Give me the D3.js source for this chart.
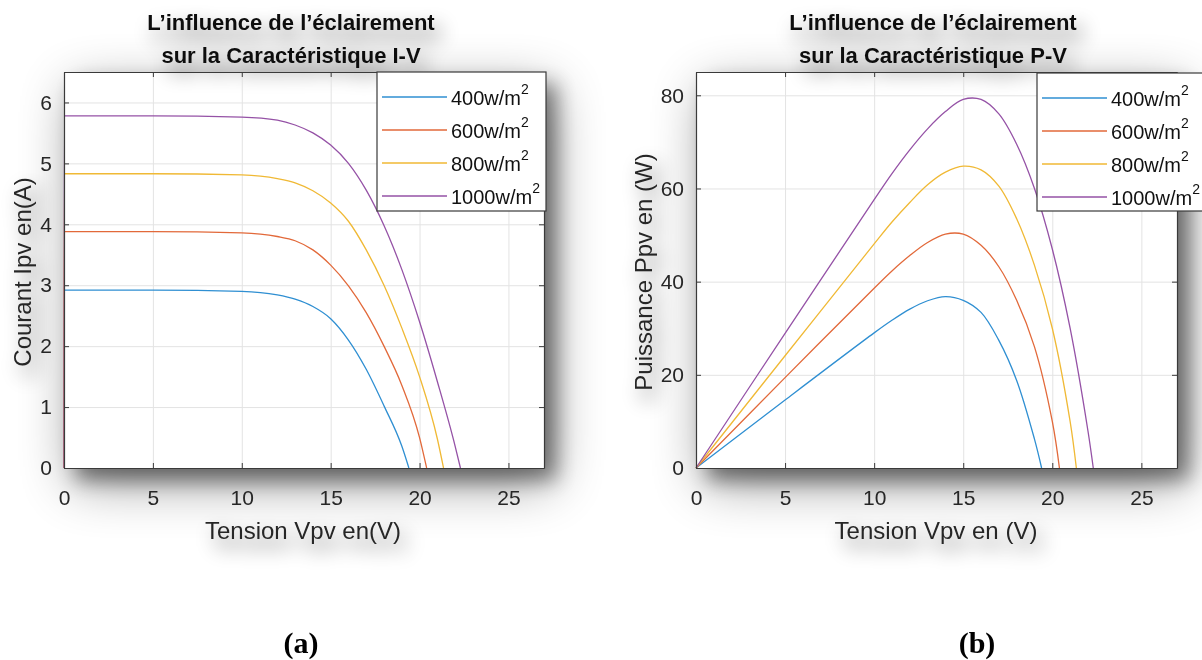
<!DOCTYPE html>
<html>
<head>
<meta charset="utf-8">
<script src="https://cdn.jsdelivr.net/npm/d3@7"></script>
<style>
  body { margin: 0; background: #fff; }
  svg { display: block; font-family: "Liberation Sans", Arial, sans-serif; }
</style>
</head>
<body>
<div id="chart"></div>
<script>
// series labels and colours
const irradiance = ["400", "600", "800", "1000"];
const colors = ["#2f8fd2", "#e2693a", "#f0b935", "#9552a6"];

// I-V curves (V in volts, I in amps)
const vIV400 = [0, 0.02, 5, 10, 12, 13, 14, 15, 16, 17, 18, 19, 19.4];
const iIV400 = [0, 2.92, 2.92, 2.90, 2.84, 2.77, 2.65, 2.45, 2.10, 1.62, 1.02, 0.36, 0];
const vIV600 = [0, 0.02, 5, 10, 12, 13, 14, 15, 16, 17, 18, 19, 20, 20.4];
const iIV600 = [0, 3.88, 3.88, 3.86, 3.80, 3.73, 3.58, 3.33, 2.99, 2.55, 2.00, 1.36, 0.50, 0];
const vIV800 = [0, 0.02, 5, 10, 12, 13, 14, 15, 16, 17, 18, 19, 20, 21, 21.35];
const iIV800 = [0, 4.83, 4.83, 4.81, 4.75, 4.68, 4.55, 4.35, 4.05, 3.58, 3.00, 2.30, 1.50, 0.48, 0];
const vIV1000 = [0, 0.02, 5, 10, 12, 13, 14, 15, 16, 17, 18, 19, 20, 21, 22, 22.3];
const iIV1000 = [0, 5.78, 5.78, 5.76, 5.71, 5.63, 5.50, 5.30, 5.00, 4.56, 3.98, 3.26, 2.40, 1.42, 0.36, 0];

// P-V curves (V in volts, P in watts)
const vPV400 = [0, 5, 10, 11, 12, 13, 14, 15, 16, 17, 18, 19, 19.4];
const pPV400 = [0, 14.6, 29.0, 31.7, 34.1, 35.9, 36.8, 36.0, 33.4, 27.4, 18.8, 6.2, 0];
const vPV600 = [0, 5, 10, 11, 12, 13, 14, 15, 16, 17, 18, 19, 20, 20.4];
const pPV600 = [0, 19.4, 38.6, 42.3, 45.6, 48.4, 50.2, 50.2, 47.8, 43.2, 36.0, 26.0, 10.0, 0];
const vPV800 = [0, 5, 10, 11, 12, 13, 14, 15, 16, 17, 18, 19, 20, 21, 21.35];
const pPV800 = [0, 24.1, 48.1, 52.8, 57.0, 60.8, 63.5, 64.8, 64.0, 60.5, 53.5, 43.5, 30.0, 10.0, 0];
const vPV1000 = [0, 5, 10, 11, 12, 13, 14, 15, 16, 17, 18, 19, 20, 21, 22, 22.3];
const pPV1000 = [0, 28.9, 57.6, 63.2, 68.3, 72.8, 76.5, 79.1, 79.1, 76.0, 69.5, 60.0, 47.0, 30.0, 8.0, 0];

// axis ticks
const xTicks = [0, 5, 10, 15, 20, 25];
const yTicksIV = [0, 1, 2, 3, 4, 5, 6];
const yTicksPV = [0, 20, 40, 60, 80];

const zip = (xs, ys) => xs.map((x, i) => [x, ys[i]]);

const svg = d3.select("#chart").append("svg")
    .attr("width", 1202)
    .attr("height", 660);

const defs = svg.append("defs");
const f = defs.append("filter").attr("id", "shadow")
    .attr("x", "-30%").attr("y", "-30%").attr("width", "160%").attr("height", "160%");
f.append("feGaussianBlur").attr("in", "SourceAlpha").attr("stdDeviation", 26).attr("result", "wide");
f.append("feOffset").attr("in", "wide").attr("dx", 8).attr("dy", 16).attr("result", "wideOff");
f.append("feComponentTransfer").attr("in", "wideOff").attr("result", "wideA")
    .append("feFuncA").attr("type", "linear").attr("slope", 0.4);
f.append("feGaussianBlur").attr("in", "SourceAlpha").attr("stdDeviation", 10).attr("result", "tight");
f.append("feOffset").attr("in", "tight").attr("dx", 12).attr("dy", 12).attr("result", "tightOff");
f.append("feComponentTransfer").attr("in", "tightOff").attr("result", "tightA")
    .append("feFuncA").attr("type", "linear").attr("slope", 0.45);
const m = f.append("feMerge");
m.append("feMergeNode").attr("in", "wideA");
m.append("feMergeNode").attr("in", "tightA");
m.append("feMergeNode").attr("in", "SourceGraphic");

const tf = defs.append("filter").attr("id", "textShadow")
    .attr("x", "-30%").attr("y", "-80%").attr("width", "160%").attr("height", "260%");
tf.append("feGaussianBlur").attr("in", "SourceAlpha").attr("stdDeviation", 10).attr("result", "b");
tf.append("feOffset").attr("in", "b").attr("dx", 6).attr("dy", 10).attr("result", "o");
tf.append("feComponentTransfer").attr("in", "o").attr("result", "a")
    .append("feFuncA").attr("type", "linear").attr("slope", 0.6);
const tm = tf.append("feMerge");
tm.append("feMergeNode").attr("in", "a");
tm.append("feMergeNode").attr("in", "SourceGraphic");

function drawPanel(p) {
    const x = d3.scaleLinear().domain([0, 27]).range([p.left, p.right]);
    const y = d3.scaleLinear().domain(p.yDomain).range([p.bottom, p.top]);
    const w = p.right - p.left, h = p.bottom - p.top;

    const g = svg.append("g");

    // white plot area with its drop shadow
    g.append("rect")
        .attr("x", p.left).attr("y", p.top)
        .attr("width", w).attr("height", h)
        .attr("fill", "#fff")
        .attr("filter", "url(#shadow)");

    // titles and axis labels (soft shadow like the pasted figure)
    const tickCol = "#262626";
    const tg = g.append("g").attr("filter", "url(#textShadow)");
    tg.append("text")
        .attr("x", p.titleX).attr("y", 30)
        .attr("text-anchor", "middle")
        .attr("font-size", 22).attr("font-weight", "bold").attr("fill", "#111")
        .text(p.title1);
    tg.append("text")
        .attr("x", p.titleX).attr("y", 63)
        .attr("text-anchor", "middle")
        .attr("font-size", 22).attr("font-weight", "bold").attr("fill", "#111")
        .text(p.title2);
    tg.append("text")
        .attr("x", p.xLabelX).attr("y", 539)
        .attr("text-anchor", "middle")
        .attr("font-size", 24).attr("fill", tickCol)
        .text(p.xLabel);
    tg.append("text")
        .attr("transform", `translate(${p.yLabelX},272) rotate(-90)`)
        .attr("text-anchor", "middle")
        .attr("font-size", 24).attr("fill", tickCol)
        .text(p.yLabel);

    // grid
    g.append("g")
        .attr("transform", `translate(0,${p.bottom})`)
        .call(d3.axisBottom(x).tickValues(xTicks).tickSize(-h).tickFormat(""))
        .call(a => a.select(".domain").remove())
        .call(a => a.selectAll("line").attr("stroke", "#e3e3e3"));
    g.append("g")
        .attr("transform", `translate(${p.left},0)`)
        .call(d3.axisLeft(y).tickValues(p.yTicks).tickSize(-w).tickFormat(""))
        .call(a => a.select(".domain").remove())
        .call(a => a.selectAll("line").attr("stroke", "#e3e3e3"));

    // curves
    const line = d3.line()
        .x(d => x(d[0]))
        .y(d => y(d[1]))
        .curve(p.curve);
    p.series.forEach((s, i) => {
        g.append("path")
            .datum(s)
            .attr("fill", "none")
            .attr("stroke", colors[i])
            .attr("stroke-width", 1.3)
            .attr("d", line);
    });

    // axes with inward ticks, box on
    const styleAx = a => {
        a.select(".domain").attr("stroke", "#3a3a3a").attr("stroke-width", 1.2);
        a.selectAll("line").attr("stroke", "#3a3a3a");
        a.selectAll("text").attr("fill", tickCol).attr("font-size", 21)
            .attr("font-family", "'Liberation Sans', Arial, sans-serif");
    };
    const fmt = d3.format("d");
    g.append("g")
        .attr("transform", `translate(0,${p.bottom})`)
        .call(d3.axisBottom(x).tickValues(xTicks).tickFormat(fmt)
            .tickSizeInner(-5).tickSizeOuter(0).tickPadding(22))
        .call(styleAx);
    g.append("g")
        .attr("transform", `translate(0,${p.top})`)
        .call(d3.axisTop(x).tickValues(xTicks).tickSizeInner(-5).tickSizeOuter(0).tickFormat(""))
        .call(styleAx);
    g.append("g")
        .attr("transform", `translate(${p.left},0)`)
        .call(d3.axisLeft(y).tickValues(p.yTicks).tickFormat(fmt)
            .tickSizeInner(-5).tickSizeOuter(0).tickPadding(12))
        .call(styleAx);
    g.append("g")
        .attr("transform", `translate(${p.right},0)`)
        .call(d3.axisRight(y).tickValues(p.yTicks).tickSizeInner(-5).tickSizeOuter(0).tickFormat(""))
        .call(styleAx);

    // legend
    const lg = g.append("g");
    lg.append("rect")
        .attr("x", p.legX).attr("y", p.legY)
        .attr("width", p.legW).attr("height", p.legH)
        .attr("fill", "#fff")
        .attr("stroke", "#3a3a3a")
        .attr("stroke-width", 1.2);
    irradiance.forEach((lab, i) => {
        const ry = p.legY + 25 + i * 33;
        lg.append("line")
            .attr("x1", p.legX + 5).attr("x2", p.legX + 70)
            .attr("y1", ry).attr("y2", ry)
            .attr("stroke", colors[i]).attr("stroke-width", 1.3);
        const t = lg.append("text")
            .attr("x", p.legX + 74).attr("y", ry + 8)
            .attr("font-size", 20).attr("fill", "#111");
        t.append("tspan").text(lab + "w/m");
        t.append("tspan").attr("dy", -11).attr("font-size", 14).text("2");
    });

    // sub-figure label
    svg.append("text")
        .attr("x", p.tagX).attr("y", 653)
        .attr("text-anchor", "middle")
        .attr("font-family", "'Liberation Serif', 'Times New Roman', serif")
        .attr("font-size", 30).attr("font-weight", "bold").attr("fill", "#000")
        .text(p.tag);
}

drawPanel({
    left: 64, right: 544, top: 72, bottom: 468,
    yDomain: [0, 6.5], yTicks: yTicksIV,
    curve: d3.curveMonotoneX,
    series: [zip(vIV400, iIV400), zip(vIV600, iIV600), zip(vIV800, iIV800), zip(vIV1000, iIV1000)],
    legX: 377, legY: 72, legW: 169, legH: 139,
    title1: "L\u2019influence de l\u2019éclairement",
    title2: "sur la Caractéristique I-V",
    titleX: 291,
    xLabel: "Tension Vpv en(V)", xLabelX: 303,
    yLabel: "Courant Ipv en(A)", yLabelX: 31,
    tag: "(a)", tagX: 301
});

drawPanel({
    left: 696, right: 1177, top: 72, bottom: 468,
    yDomain: [0, 85], yTicks: yTicksPV,
    curve: d3.curveCatmullRom.alpha(0.5),
    series: [zip(vPV400, pPV400), zip(vPV600, pPV600), zip(vPV800, pPV800), zip(vPV1000, pPV1000)],
    legX: 1037, legY: 73, legW: 166, legH: 138,
    title1: "L\u2019influence de l\u2019éclairement",
    title2: "sur la Caractéristique P-V",
    titleX: 933,
    xLabel: "Tension Vpv en (V)", xLabelX: 936,
    yLabel: "Puissance Ppv en (W)", yLabelX: 652,
    tag: "(b)", tagX: 977
});
</script>
</body>
</html>
